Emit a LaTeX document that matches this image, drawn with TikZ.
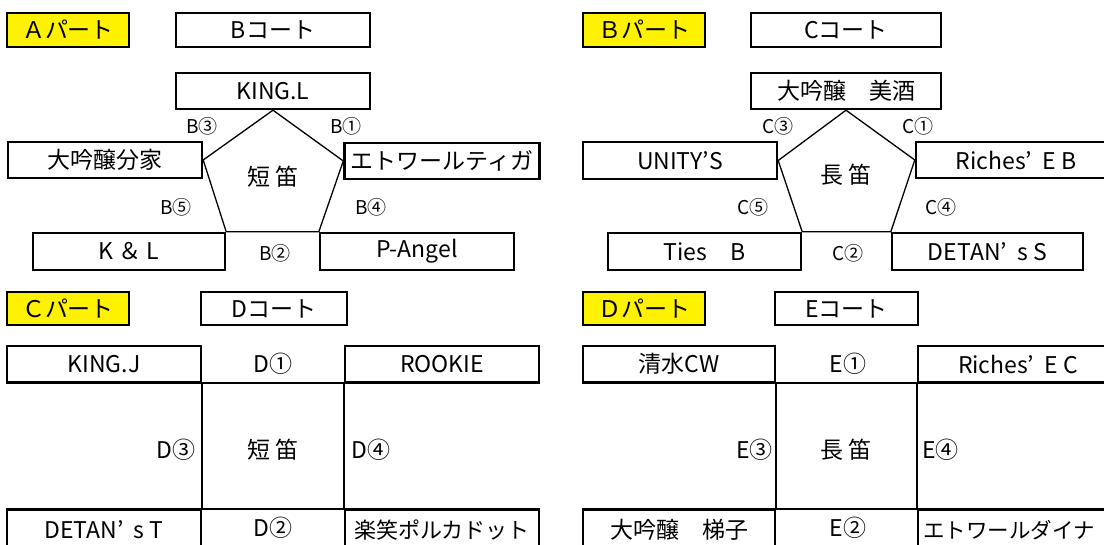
\documentclass[tikz,border=0pt]{standalone}
\usepackage{fontspec}
\setmainfont{Noto Sans CJK JP}
\usetikzlibrary{positioning}

\begin{document}
\begin{tikzpicture}[x=1pt, y=-1pt,
    team/.style={draw, line width=2.4pt, inner sep=0pt, minimum width=194pt,
      minimum height=36pt, font=\fontsize{23}{23}\selectfont},
    part/.style={team, fill=yellow, minimum width=122pt, minimum height=34pt},
    court/.style={team, minimum height=34pt},
    lbl/.style={inner sep=0pt, font=\fontsize{19}{19}\selectfont},
    cell/.style={inner sep=0pt, font=\fontsize{23}{23}\selectfont},
    ring/.style={line width=1.3pt, line join=round},
    tline/.style={line width=2.4pt}]
  \useasboundingbox (0,0) rectangle (1104,545);
  \fill[white] (0,0) rectangle (1104,545);
  \clip (0,0) rectangle (1104,545);

  % A part, B court
  \node[part] (pa) at (68,30) {Ａパート};
  \node[court] (cb) at (273,30) {Bコート};
  \node[team] (b0) at (273,91) {KING.L};
  \node[team] (b1) at (105,160) {大吟醸分家};
  \node[team, minimum width=195pt] (b2) at (442,161) {エトワールティガ};
  \node[team, minimum width=192pt, minimum height=37pt] (b3) at (129,251.5) {K ＆ L};
  \node[team, minimum height=37pt] (b4) at (417,251.5) {P-Angel};
  \draw[ring] (b0.south) -- (b2.west) -- (b4.north west) -- (b3.north east) -- (b1.east) -- cycle;
  \node[team, draw=none, minimum width=0pt] (bs) at (273,177) {短 笛};
  \node[lbl] (bm3) at (202,126) {B③};
  \node[lbl] (bm1) at (346,126) {B①};
  \node[lbl] (bm5) at (176,207) {B⑤};
  \node[lbl] (bm4) at (371,207) {B④};
  \node[lbl] (bm2) at (275,253) {B②};

  % B part, C court
  \node[part] (pb) at (644,30) {Ｂパート};
  \node[court, minimum width=190pt] (cc) at (846,30) {Cコート};
  \node[team, minimum width=190pt] (c0) at (846,91) {大吟醸　美酒};
  \node[team, minimum height=37pt] (c1) at (680,160.5) {UNITY'S};
  \node[team, minimum width=200pt] (c2) at (1016,160) {Riches’\ \ E B};
  \node[team, minimum width=193pt, minimum height=37pt] (c3) at (704.5,251.5) {Ties　B};
  \node[team, minimum width=191pt, minimum height=37pt] (c4) at (987.5,251.5) {DETAN’\ \ s S};
  \draw[ring] (c0.south) -- (c2.west) -- (c4.north west) -- (c3.north east) -- (c1.east) -- cycle;
  \node[team, draw=none, minimum width=0pt] (cs) at (846,175) {長 笛};
  \node[lbl] (cm3) at (778,126) {C③};
  \node[lbl] (cm1) at (918,126) {C①};
  \node[lbl] (cm5) at (753,207) {C⑤};
  \node[lbl] (cm4) at (941,207) {C④};
  \node[lbl] (cm2) at (848,253) {C②};

  % C part, D court
  \node[part, minimum height=33pt] (pc) at (68,308.5) {Ｃパート};
  \node[court, minimum width=146pt, minimum height=33pt] (cd) at (274,308.5) {Dコート};
  \node[team] (d1) at (104,364) {KING.J};
  \node[team] (d2) at (442,364) {ROOKIE};
  \node[team, minimum height=40pt] (d3) at (104,530) {DETAN’\ \ s T};
  \node[team, minimum height=40pt, font=\fontsize{22}{22}\selectfont] (d4) at (442,530) {楽笑ポルカドット};
  \draw[tline] (d1.south west) -- (d2.south east);
  \draw[tline] (d3.north west) -- (d4.north east);
  \draw[tline] (d1.south east) -- (d3.north east);
  \draw[tline] (d2.south west) -- (d4.north west);
  \node[cell] (dm1) at (273,364) {D①};
  \node[cell] (dm2) at (273,528) {D②};
  \node[cell, anchor=east] (dm3) at (196,450) {D③};
  \node[cell, anchor=west] (dm4) at (351,450) {D④};
  \node[team, draw=none, minimum width=0pt] (ds) at (273,450) {短 笛};

  % D part, E court
  \node[part, minimum height=33pt] (pd) at (644,308.5) {Ｄパート};
  \node[court, minimum width=143pt, minimum height=33pt] (ce) at (846.5,308.5) {Eコート};
  \node[team, minimum width=192pt] (e1) at (679,364) {清水CW};
  \node[team, minimum width=200pt] (e2) at (1018,364) {Riches’\ \ E C};
  \node[team, minimum width=192pt, minimum height=40pt] (e3) at (679,530) {大吟醸　梯子};
  \node[team, minimum height=40pt, text width=190pt, inner xsep=5pt, align=left,
    font=\fontsize{21.5}{21.5}\selectfont] (e4) at (1018,530) {エトワールダイナ};
  \draw[tline] (e1.south west) -- (e2.south east);
  \draw[tline] (e3.north west) -- (e4.north east);
  \draw[tline] (e1.south east) -- (e3.north east);
  \draw[tline] (e2.south west) -- (e4.north west);
  \node[cell] (em1) at (848,364) {E①};
  \node[cell] (em2) at (848,528) {E②};
  \node[cell, anchor=east] (em3) at (773,450) {E③};
  \node[cell, anchor=west] (em4) at (922,450) {E④};
  \node[team, draw=none, minimum width=0pt] (es) at (846,450) {長 笛};
\end{tikzpicture}
\end{document}
